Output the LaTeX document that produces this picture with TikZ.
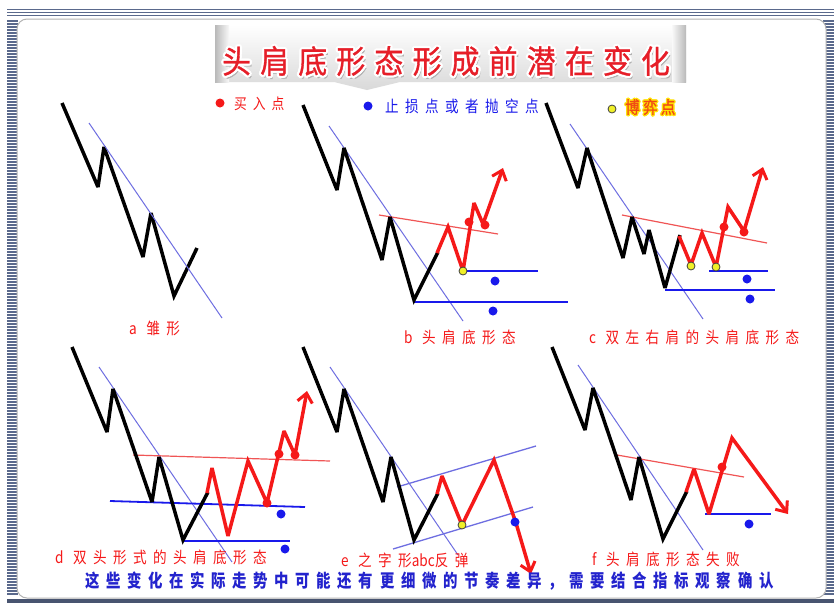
\documentclass[tikz,border=0pt]{standalone}
\usepackage{fontspec}
\usetikzlibrary{arrows.meta}
\newfontfamily\cjk{Noto Sans CJK SC}[FakeStretch=0.85,LetterSpace=40]
\newfontfamily\cjkplain{Noto Sans CJK SC}[FakeStretch=0.85]
\newfontfamily\cjkgame{Noto Sans CJK SC}[FakeStretch=0.85,LetterSpace=20,FakeBold=1.5]
\newfontfamily\cjktitle{Noto Sans CJK SC}[FakeStretch=0.9,LetterSpace=29,FakeBold=1]
\newfontfamily\cjknote{Noto Sans CJK SC}[FakeStretch=0.8,LetterSpace=37]
\definecolor{stripe}{RGB}{90,105,140}
\definecolor{trendblue}{RGB}{110,110,225}
\definecolor{stopblue}{RGB}{25,25,235}
\definecolor{buyred}{RGB}{245,25,25}
\definecolor{neckred}{RGB}{240,85,85}
\definecolor{gameyellow}{RGB}{240,240,40}
\definecolor{notecol}{RGB}{35,35,205}
\definecolor{titlered}{RGB}{230,30,40}
\definecolor{gameorange}{RGB}{240,75,20}
\tikzset{
  price/.style={line width=3.5pt, black, line join=miter, miter limit=3},
  rise/.style={line width=3.5pt, buyred, line join=miter, miter limit=3},
  riseup/.style={rise, -{Straight Barb[length=9pt,width=15pt,line width=3pt]}},
  trend/.style={trendblue, line width=1pt},
  neck/.style={neckred, line width=1.2pt},
  stopline/.style={stopblue, line width=1.8pt},
  buy/.style={circle, fill=buyred, inner sep=0pt, minimum size=9pt},
  stop/.style={circle, fill=stopblue, inner sep=0pt, minimum size=9pt},
  game/.style={circle, fill=gameyellow, draw=black!75, line width=0.8pt, inner sep=0pt, minimum size=8pt},
  lbl/.style={font=\cjk\fontsize{16}{18}\selectfont, text=buyred, anchor=west, inner sep=0pt},
  gamelbl/.style={lbl, font=\cjkgame\fontsize{17}{18}\selectfont},
  titletext/.style={font=\cjktitle\fontsize{32}{36}\selectfont, anchor=west, inner sep=0pt}
}
\begin{document}
\begin{tikzpicture}[x=1pt, y=-1pt]
    \useasboundingbox (0,0) rectangle (834,603);
    \fill[white] (0,0) rectangle (834,603);

    % frame
    \foreach \y in {9.5,12.5,15.5}
        \draw[stripe, line width=1.5pt] (7,\y) -- (834,\y);
    \foreach \y in {21,24,...,594} {
        \draw[stripe, line width=1.5pt] (7,\y) -- (18,\y);
        \draw[stripe, line width=1.5pt] (823,\y) -- (834,\y);
    }
    \fill[stripe!80!black] (7,599) rectangle (834,603);
    \filldraw[fill=white, draw=gray!60, line width=1pt, rounded corners=10pt] (17,19) rectangle (826,598);

    % title banner
    \shade[top color=white, bottom color=gray!30] (215,25) -- (686,25) -- (686,82) -- (400,82) -- (367,90) -- (334,82) -- (215,82) -- cycle;
    \shade[left color=gray!55, right color=gray!5] (215,25) rectangle (229,82);
    \shade[left color=gray!5, right color=gray!55] (672,25) rectangle (686,82);
    \node[titletext, text=gray!60] (tshadow) at (224,64) {头肩底形态形成前潜在变化};
    \foreach \a in {0,30,...,330}
        \node[titletext, text=white] (thalo\a) at ([shift={(\a:2.2)}]222,61) {头肩底形态形成前潜在变化};
    \node[titletext, text=titlered] (title) at (222,61) {头肩底形态形成前潜在变化};

    % legend
    \node[buy] (lbuy) at (220,103) {};
    \node[lbl, font=\cjk\fontsize{15}{18}\selectfont] (lbuytext) at (234,104) {买入点};
    \node[stop] (lstop) at (368,106) {};
    \node[lbl, text=stopblue] (lstoptext) at (385,106) {止损点或者抛空点};
    \node[game] (lgame) at (612,109) {};
    \foreach \a in {0,45,...,315}
        \node[gamelbl, text=yellow!85!orange] (ghalo\a) at ([shift={(\a:1.4)}]625,107) {博弈点};
    \node[gamelbl, text=gameorange] (lgametext) at (625,107) {博弈点};

    % a
    \draw[price] (62,103) -- (98,187) -- (104,147) -- (143,257) -- (151,213) -- (174,296) -- (197,248);
    \draw[trend] (89,123) -- (222,318);
    \node[lbl] (la) at (129,328) {a 雏形};

    % b
    \draw[trend] (329,126) -- (463,321);
    \draw[neck] (379,215) -- (498,234);
    \draw[stopline] (463,271) -- (538,271);
    \draw[stopline] (414,302) -- (568,302);
    \draw[price] (303,105) -- (337,190) -- (344,148) -- (382,260) -- (390,217) -- (414,300) -- (438,252);
    \draw[riseup] (437,253) -- (448,227) -- (463,271) -- (474,203) -- (483,224) -- (503,168);
    \node[game] (bg) at (463,271) {};
    \node[buy] (bb1) at (469,222) {};
    \node[buy] (bb2) at (485,225) {};
    \node[stop] (bs1) at (495,281) {};
    \node[stop] (bs2) at (493,311) {};
    \node[lbl] (lb) at (404,337) {b 头肩底形态};

    % c
    \draw[trend] (570,124) -- (703,319);
    \draw[neck] (622,215) -- (767,243);
    \draw[stopline] (709,271) -- (768,271);
    \draw[stopline] (665,290) -- (775,290);
    \draw[price] (546,103) -- (578,188) -- (587,148) -- (623,258) -- (632,217) -- (644,254) -- (649,230) -- (665,288) -- (680,235);
    \draw[riseup] (679,236) -- (691,265) -- (702,233) -- (716,267) -- (728,207) -- (744,231) -- (763,167);
    \node[game] (cg1) at (691,266) {};
    \node[game] (cg2) at (716,267) {};
    \node[buy] (cb1) at (724,227) {};
    \node[buy] (cb2) at (744,232) {};
    \node[stop] (cs1) at (747,279) {};
    \node[stop] (cs2) at (750,299) {};
    \node[lbl] (lc) at (589,337) {c 双左右肩的头肩底形态};

    % d
    \draw[trend] (99,367) -- (232,562);
    \draw[neck] (133,455) -- (330,461);
    \draw[stopline] (110,501) -- (305,507);
    \draw[stopline] (183,541) -- (290,541);
    \draw[price] (72,347) -- (107,432) -- (113,389) -- (152,502) -- (159,457) -- (183,540) -- (208,492);
    \draw[riseup] (207,493) -- (212,468) -- (228,536) -- (248,461) -- (267,503) -- (284,431) -- (295,455) -- (307,391);
    \node[buy] (db1) at (267,503) {};
    \node[buy] (db2) at (279,454) {};
    \node[buy] (db3) at (295,455) {};
    \node[stop] (ds1) at (281,514) {};
    \node[stop] (ds2) at (285,549) {};
    \node[lbl] (ld) at (55,557) {d 双头形式的头肩底形态};

    % e
    \draw[trend] (330,367) -- (458,555);
    \draw[trend, line width=1.3pt] (397,487) -- (536,446);
    \draw[trend, line width=1.3pt] (393,549) -- (533,507);
    \draw[price] (303,347) -- (337,432) -- (344,389) -- (383,502) -- (391,457) -- (414,540) -- (438,493);
    \draw[riseup] (437,494) -- (442,476) -- (462,525) -- (494,460) -- (516,523) -- (531,574);
    \node[game] (eg) at (462,525) {};
    \node[stop] (es) at (515,522) {};
    \node[lbl] (le) at (341,560) {e 之字形{\cjkplain abc}反弹};

    % f
    \draw[trend] (578,365) -- (703,550);
    \draw[neck] (617,455) -- (744,477);
    \draw[stopline] (705,514) -- (771,514);
    \draw[price] (552,347) -- (585,430) -- (593,388) -- (631,500) -- (639,457) -- (663,539) -- (687,491);
    \draw[riseup] (686,492) -- (694,469) -- (709,514) -- (732,438) -- (788,514);
    \node[buy] (fb) at (722,467) {};
    \node[stop] (fs) at (749,524) {};
    \node[lbl] (lf) at (592,559) {f 头肩底形态失败};

    % note
    \node[lbl, text=notecol, font=\cjknote\bfseries\fontsize{18}{20}\selectfont] (note) at (85,581) {这些变化在实际走势中可能还有更细微的节奏差异，需要结合指标观察确认};
\end{tikzpicture}
\end{document}
